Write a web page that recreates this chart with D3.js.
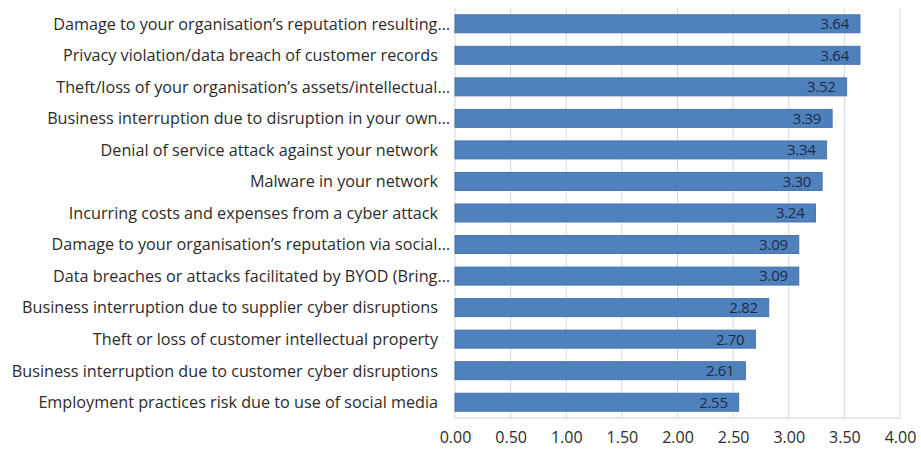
<!DOCTYPE html>
<html><head><meta charset="utf-8">
<script src="https://cdn.jsdelivr.net/npm/d3@7"></script>
<style>
html,body{margin:0;padding:0;background:#fff;}
text{font-family:"Open Sans",sans-serif;}
</style></head>
<body><svg id="chart" width="921" height="452"></svg>
<script>
const categories = [
  "Damage to your organisation’s reputation resulting…",
  "Privacy violation/data breach of customer records",
  "Theft/loss of your organisation’s assets/intellectual…",
  "Business interruption due to disruption in your own…",
  "Denial of service attack against your network",
  "Malware in your network",
  "Incurring costs and expenses from a cyber attack",
  "Damage to your organisation’s reputation via social…",
  "Data breaches or attacks facilitated by BYOD (Bring…",
  "Business interruption due to supplier cyber disruptions",
  "Theft or loss of customer intellectual property",
  "Business interruption due to customer cyber disruptions",
  "Employment practices risk due to use of social media"
];
const values = [3.64, 3.64, 3.52, 3.39, 3.34, 3.30, 3.24, 3.09, 3.09, 2.82, 2.70, 2.61, 2.55];
const tickValues = [0, 0.5, 1, 1.5, 2, 2.5, 3, 3.5, 4];

const svg = d3.select("#chart");
const m = {left:455, right:21, top:8, bottom:34};
const W = 921, H = 452;
const x = d3.scaleLinear().domain([0,4]).range([m.left, W - m.right]);
const y = d3.scaleBand().domain(categories).range([m.top, H - m.bottom]).paddingInner(0.43).paddingOuter(0.215);

svg.append("g").selectAll("line").data(tickValues).join("line")
  .attr("x1", d => x(d)).attr("x2", d => x(d))
  .attr("y1", m.top).attr("y2", H - m.bottom)
  .attr("stroke", "#d9d9d9").attr("stroke-width", 1);

svg.append("line").attr("x1", x(0)).attr("x2", x(4))
  .attr("y1", H - m.bottom).attr("y2", H - m.bottom)
  .attr("stroke", "#d0d0d0");

svg.append("g").selectAll("rect").data(values).join("rect")
  .attr("x", x(0))
  .attr("y", (d,i) => y(categories[i]))
  .attr("width", d => x(d) - x(0))
  .attr("height", y.bandwidth())
  .attr("fill", "#4f81bd")
  .attr("stroke", "#4674ad").attr("stroke-width", 1);

svg.append("g").selectAll("text").data(values).join("text")
  .attr("x", d => x(d) - 11)
  .attr("y", (d,i) => y(categories[i]) + y.bandwidth()/2)
  .attr("dy", "0.36em")
  .attr("text-anchor", "end")
  .attr("font-size", 15)
  .attr("letter-spacing", -0.3)
  .attr("fill", "#1c2c48")
  .text(d => d.toFixed(2));

svg.append("g").selectAll("text").data(categories).join("text")
  .attr("x", d => d.endsWith("…") ? 450 : 438)
  .attr("y", d => y(d) + y.bandwidth()/2)
  .attr("dy", "0.36em")
  .attr("text-anchor", "end")
  .attr("font-size", 16.2)
  .attr("fill", "#2b2b2b")
  .text(d => d);

const xAxis = d3.axisBottom(x).tickValues(tickValues).tickFormat(d3.format(".2f")).tickSize(0).tickPadding(14);
const gx = svg.append("g").attr("transform", `translate(0,${H - m.bottom})`).call(xAxis);
gx.select(".domain").remove();
gx.selectAll("text").attr("font-size", 16).attr("fill", "#2b2b2b")
  .style("font-family", "'Open Sans',sans-serif");
</script></body></html>
